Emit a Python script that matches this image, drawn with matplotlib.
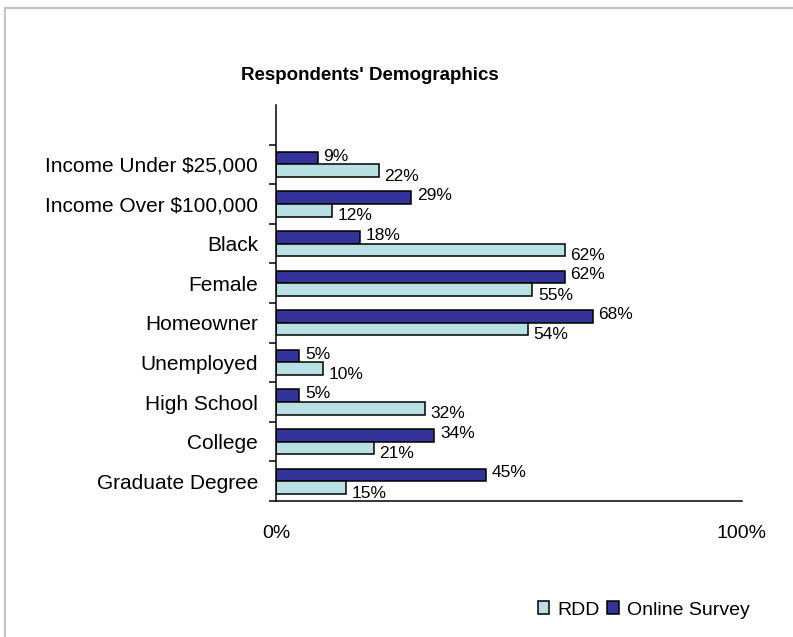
import matplotlib
matplotlib.use('Agg')
import numpy as np
import matplotlib.pyplot as plt
from matplotlib.lines import Line2D
from matplotlib.patches import Patch

plt.rcParams['font.family'] = ['Liberation Sans', 'DejaVu Sans']

# Categorías de abajo hacia arriba (la ranura superior queda vacía)
categorias = ['Graduate Degree', 'College', 'High School', 'Unemployed', 'Homeowner',
              'Female', 'Black', 'Income Over $100,000', 'Income Under $25,000']
rdd = [15, 21, 32, 10, 54, 55, 62, 12, 22]
online = [45, 34, 5, 5, 68, 62, 18, 29, 9]
etiquetas_x = ['0%', '100%']

color_rdd = '#B9E1E4'
color_online = '#333399'

fig = plt.figure(figsize=(7.93, 6.37), dpi=100)
ax = fig.add_axes([276 / 793, 1 - 501 / 637, (742 - 276) / 793, (501 - 105) / 637])

y = np.arange(len(categorias))
alto = 0.316
ax.barh(y + alto / 2, online, height=alto, color=color_online, edgecolor='black', linewidth=1.1)
ax.barh(y - alto / 2, rdd, height=alto, color=color_rdd, edgecolor='black', linewidth=1.1)

for i in range(len(categorias)):
    ax.annotate(f'{online[i]}%', (online[i], y[i] + alto / 2), xytext=(4, 1.5),
                textcoords='offset points', ha='left', va='center', fontsize=12.5)
    ax.annotate(f'{rdd[i]}%', (rdd[i], y[i] - alto / 2), xytext=(4, -4),
                textcoords='offset points', ha='left', va='center', fontsize=12.5)

ax.set_xlim(0, 100)
ax.set_ylim(-0.5, len(categorias) + 0.5)
ax.set_yticks(y)
ax.set_yticklabels(categorias, fontsize=15)
ax.set_yticks(np.arange(-0.5, len(categorias) + 0.5, 1), minor=True)
ax.tick_params(axis='y', which='major', length=0, pad=13)
ax.tick_params(axis='y', which='minor', length=5, width=1.1, direction='out')
ax.set_xticks([0, 100])
ax.set_xticklabels(etiquetas_x, fontsize=14)
ax.tick_params(axis='x', length=0, pad=17)

for lado in ['top', 'right']:
    ax.spines[lado].set_visible(False)
ax.spines['left'].set_linewidth(1.1)
ax.spines['bottom'].set_linewidth(1.1)

fig.text(370 / 793, 1 - 75 / 637, "Respondents' Demographics", ha='center', va='center',
         fontsize=13.5, fontweight='bold', family=['Liberation Sans Narrow', 'Liberation Sans'])

manejadores = [Patch(facecolor=color_rdd, edgecolor='black', linewidth=1.1, label='RDD'),
               Patch(facecolor=color_online, edgecolor='black', linewidth=1.1, label='Online Survey')]
fig.legend(handles=manejadores, loc='center left', bbox_to_anchor=(520 / 793, 1 - 610 / 637),
           ncol=2, frameon=False, fontsize=14, handlelength=0.6, handleheight=0.6,
           handletextpad=0.4, columnspacing=0.4)

# Marco gris de la figura (solo izquierda y arriba)
fig.add_artist(Line2D([5 / 793, 5 / 793], [0, 1 - 8 / 637], color='#C4C4C4', linewidth=1.6))
fig.add_artist(Line2D([5 / 793, 1], [1 - 8 / 637, 1 - 8 / 637], color='#C4C4C4', linewidth=1.6))

plt.savefig('out.png', dpi=100)
